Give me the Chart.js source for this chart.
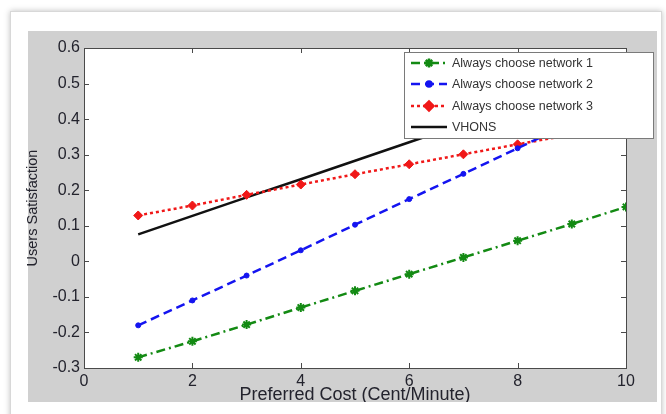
<!DOCTYPE html>
<html>
<head>
<meta charset="utf-8">
<script src="https://cdn.jsdelivr.net/npm/chart.js@4"></script>
<style>
  html, body { margin: 0; padding: 0; background: #fff; }
  canvas { display: block; }
</style>
</head>
<body>
<canvas id="chart" width="666" height="414"></canvas>
<script>
const costs = [1, 2, 3, 4, 5, 6, 7, 8, 9, 10]
const network1 = [-0.27, -0.225, -0.178, -0.13, -0.083, -0.036, 0.011, 0.058, 0.105, 0.153]
const network2 = [-0.18, -0.11, -0.04, 0.031, 0.103, 0.175, 0.246, 0.318, 0.39, 0.46]
const network3 = [0.129, 0.157, 0.187, 0.216, 0.245, 0.273, 0.301, 0.329, 0.357, 0.385]
const vhons = [0.076, 0.128, 0.18, 0.231, 0.283, 0.335, 0.387, 0.438, 0.49, 0.542]
const seriesNames = ["Always choose network 1", "Always choose network 2", "Always choose network 3", "VHONS"]
const xTitle = "Preferred Cost (Cent/Minute)"
const yTitle = "Users Satisfaction"

const points = (ys) => costs.map((x, i) => ({ x: x, y: ys[i] }))

const GRAY = "#d0d0d0"
const GRAY_BOTTOM = 402

// page frame + gray figure background
const backgroundPlugin = {
  id: "figureBackground",
  beforeDraw(chart) {
    const ctx = chart.ctx
    ctx.save()
    ctx.fillStyle = "#fff"
    ctx.fillRect(0, 0, chart.width, chart.height)
    ctx.shadowColor = "rgba(0,0,0,0.25)"
    ctx.shadowBlur = 6
    ctx.fillRect(10, 11, 652, 420)
    ctx.shadowBlur = 0
    ctx.strokeStyle = "#d8d8d8"
    ctx.strokeRect(10.5, 11.5, 651, 420)
    ctx.fillStyle = GRAY
    ctx.fillRect(28, 31, 629, GRAY_BOTTOM - 31)
    const a = chart.chartArea
    ctx.fillStyle = "#fff"
    ctx.fillRect(a.left, a.top, a.right - a.left, a.bottom - a.top)
    ctx.restore()
  }
}

// matlab style box with inward ticks
const boxPlugin = {
  id: "matlabBox",
  afterDatasetsDraw(chart) {
    const ctx = chart.ctx
    const a = chart.chartArea
    const xs = chart.scales.x
    const ys = chart.scales.y
    ctx.save()
    ctx.strokeStyle = "#4a4a4a"
    ctx.lineWidth = 1
    ctx.strokeRect(Math.round(a.left) + 0.5, Math.round(a.top) + 0.5, Math.round(a.right - a.left), Math.round(a.bottom - a.top))
    ctx.beginPath()
    ys.ticks.forEach(t => {
      const y = Math.round(ys.getPixelForValue(t.value)) + 0.5
      ctx.moveTo(a.left, y); ctx.lineTo(a.left + 5, y)
      ctx.moveTo(a.right, y); ctx.lineTo(a.right - 5, y)
    })
    xs.ticks.forEach(t => {
      const x = Math.round(xs.getPixelForValue(t.value)) + 0.5
      ctx.moveTo(x, a.bottom); ctx.lineTo(x, a.bottom - 5)
      ctx.moveTo(x, a.top); ctx.lineTo(x, a.top + 5)
    })
    ctx.stroke()
    ctx.restore()
  }
}

const styles = [
  { color: "#138a13", dash: [9, 4, 2, 4], marker: "star", radius: 4.5 },
  { color: "#1414f0", dash: [9, 5], marker: "circle", radius: 2.5 },
  { color: "#f01818", dash: [3, 3], marker: "rectRot", radius: 4.5 },
  { color: "#111111", dash: [], marker: false, radius: 0 }
]

// legend box inside the axes, upper right
const legendPlugin = {
  id: "boxLegend",
  afterDraw(chart) {
    const ctx = chart.ctx
    ctx.save()
    // clip the bottom of the figure like the source image
    ctx.fillStyle = "#fff"
    ctx.fillRect(11, GRAY_BOTTOM, 650, chart.height - GRAY_BOTTOM)

    ctx.fillStyle = "#fff"
    ctx.fillRect(404, 52, 249, 86)
    ctx.strokeStyle = "#7a7a7a"
    ctx.lineWidth = 1
    ctx.strokeRect(404.5, 52.5, 249, 86)
    const rows = [63, 84, 106, 127]
    ctx.font = "12.5px 'Liberation Sans', Arial, sans-serif"
    ctx.textBaseline = "middle"
    seriesNames.forEach((name, i) => {
      const s = styles[i]
      const y = rows[i]
      ctx.strokeStyle = s.color
      ctx.lineWidth = 2.5
      ctx.setLineDash(s.dash)
      ctx.beginPath()
      ctx.moveTo(411, y)
      ctx.lineTo(447, y)
      ctx.stroke()
      ctx.setLineDash([])
      if (s.marker) {
        Chart.helpers.drawPoint(ctx, {
          pointStyle: s.marker,
          radius: s.radius,
          borderWidth: s.marker === "star" ? 2 : 1
        }, 429, y)
        ctx.fillStyle = s.color
        ctx.fill()
      }
      ctx.fillStyle = "#333"
      ctx.fillText(name, 452, y + 1)
    })
    ctx.restore()
  }
}

const datasets = [network1, network2, network3, vhons].map((ys, i) => ({
  label: seriesNames[i],
  data: points(ys),
  borderColor: styles[i].color,
  backgroundColor: styles[i].color,
  borderWidth: 2.5,
  borderDash: styles[i].dash,
  borderCapStyle: "butt",
  pointStyle: styles[i].marker || "circle",
  pointRadius: styles[i].radius,
  pointBorderWidth: styles[i].marker === "star" ? 2 : 1,
  pointBorderColor: styles[i].color,
  pointBackgroundColor: styles[i].color,
  tension: 0
}))

const tickFont = { family: "'Liberation Sans', Arial, sans-serif", size: 16 }

new Chart(document.getElementById("chart").getContext("2d"), {
  type: "line",
  data: { datasets: datasets },
  options: {
    responsive: false,
    animation: false,
    events: [],
    layout: { padding: { left: 0, top: 48, right: 40, bottom: 0 } },
    scales: {
      x: {
        type: "linear",
        min: 0,
        max: 10,
        afterFit: (scale) => { scale.height = 46 },
        ticks: { stepSize: 2, font: tickFont, color: "#23232d", padding: 4, maxRotation: 0 },
        grid: { drawOnChartArea: false, drawTicks: false },
        border: { display: false },
        title: {
          display: true,
          text: xTitle,
          color: "#23232d",
          font: { family: "'Liberation Sans', Arial, sans-serif", size: 18 },
          padding: { top: 0, bottom: 8 }
        }
      },
      y: {
        type: "linear",
        min: -0.3,
        max: 0.6,
        afterFit: (scale) => { scale.width = 84 },
        ticks: {
          stepSize: 0.1,
          font: tickFont,
          color: "#23232d",
          padding: 4,
          callback: (v) => String(Number(v.toFixed(1)))
        },
        grid: { drawOnChartArea: false, drawTicks: false },
        border: { display: false },
        title: {
          display: true,
          text: yTitle,
          color: "#23232d",
          font: { family: "'Liberation Sans', Arial, sans-serif", size: 14.5 },
          padding: { top: 24, bottom: 0 }
        }
      }
    },
    plugins: {
      legend: { display: false },
      tooltip: { enabled: false }
    }
  },
  plugins: [backgroundPlugin, boxPlugin, legendPlugin]
})
</script>
</body>
</html>
